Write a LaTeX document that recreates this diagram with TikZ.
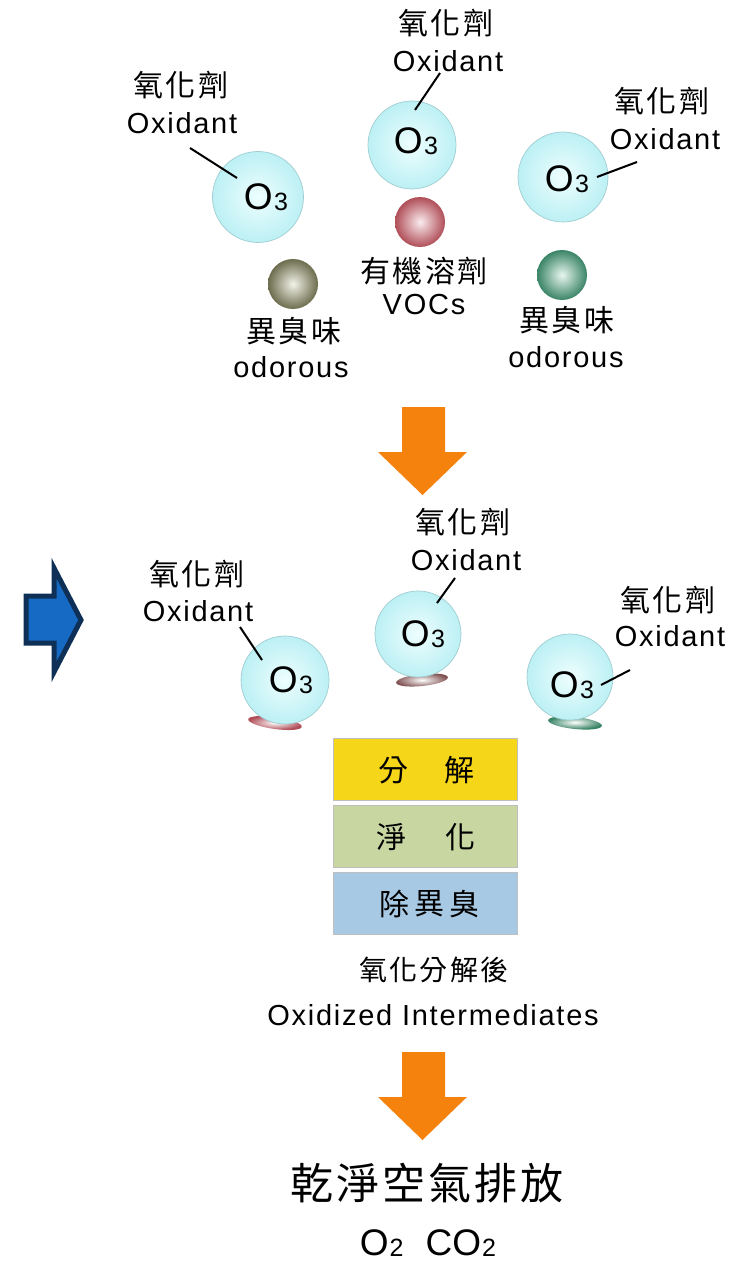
\documentclass[tikz,border=0pt]{standalone}
\usepackage{fontspec}
\setmainfont{Liberation Sans}
\newfontfamily\lat{Liberation Sans}[LetterSpace=6]
\newfontfamily\plain{Liberation Sans}
\newfontfamily\cjk{Noto Sans CJK TC}[LetterSpace=8]
\newfontfamily\cjkb{Noto Sans CJK TC}[LetterSpace=7]
\newfontfamily\cjkbox{Noto Sans CJK TC}
\definecolor{ozin}{RGB}{238,254,254}
\definecolor{ozout}{RGB}{188,240,244}
\definecolor{ozb}{RGB}{160,205,210}
\definecolor{redout}{RGB}{176,78,88}
\definecolor{redin}{RGB}{250,236,238}
\definecolor{oliveout}{RGB}{108,108,78}
\definecolor{olivein}{RGB}{242,242,232}
\definecolor{greenout}{RGB}{58,132,102}
\definecolor{greenin}{RGB}{232,246,240}
\definecolor{brownout}{RGB}{128,82,82}
\definecolor{orangeA}{RGB}{245,130,12}
\definecolor{blueA}{RGB}{22,106,196}
\definecolor{blueB}{RGB}{14,48,86}
\definecolor{boxY}{RGB}{246,214,24}
\definecolor{boxG}{RGB}{200,214,162}
\definecolor{boxB}{RGB}{168,201,228}
\newcommand\othree{{\plain\fontsize{37}{37}\selectfont O\kern1.5pt\raisebox{-1pt}{\fontsize{25}{25}\selectfont 3}}}
\newcommand\sub[1]{\kern1pt\raisebox{-1pt}{\fontsize{25}{25}\selectfont #1}}
\tikzset{
  lbl/.style={font=\lat\fontsize{29}{31}\selectfont, inner sep=0pt},
  clbl/.style={font=\cjk\fontsize{30}{32}\selectfont, inner sep=0pt},
  ozone/.style={circle, draw=ozb, line width=0.7pt, inner color=ozin, outer color=ozout, minimum size=#1, inner sep=0pt},
  ball/.style={circle, minimum size=50pt, inner sep=0pt, inner color=#1in, outer color=#1out},
  disc/.style={ellipse, minimum width=54pt, minimum height=12pt, inner sep=0pt, inner color=white, outer color=#1},
  leader/.style={line width=2pt, black},
  otext/.style={inner sep=0pt},
  stagebox/.style={draw=black!25, line width=0.6pt, minimum width=184pt, minimum height=62pt, inner sep=0pt},
  boxtext/.style={font=\cjkbox\fontsize{30}{32}\selectfont, inner sep=0pt},
  bigarrow/.style={fill=orangeA}
}
\begin{document}
\begin{tikzpicture}[x=1pt,y=-1pt]
\useasboundingbox (0,0) rectangle (747,1265);
\usetikzlibrary{shapes.geometric}
% ---------- top stage ----------
\node[ozone=91pt] (s1) at (258,197) {};
\node[otext] (o1) at (266,197) {\othree};
\node[ozone=88pt] (s2) at (412,145) {};
\node[otext] (o2) at (416,141) {\othree};
\node[ozone=90pt] (s3) at (563,177) {};
\node[otext] (o3) at (567,179) {\othree};

\node[clbl] (c1) at (181,85) {氧化劑};
\node[lbl] (e1) at (182,123) {Oxidant};
\node[clbl] (c2) at (446,23) {氧化劑};
\node[lbl] (e2) at (448,61) {Oxidant};
\node[clbl] (c3) at (662,101) {氧化劑};
\node[lbl] (e3) at (665,139) {Oxidant};

\coordinate (l1a) at (190,148); \coordinate (l1b) at (237,178);
\coordinate (l2a) at (440,73);  \coordinate (l2b) at (415,110);
\coordinate (l3a) at (637,162); \coordinate (l3b) at (597,177);
\draw[leader] (l1a) -- (l1b);
\draw[leader] (l2a) -- (l2b);
\draw[leader] (l3a) -- (l3b);

\node[ball=red] (bv) at (420,222) {};
\node[clbl] (cv) at (424,271) {有機溶劑};
\node[lbl] (ev) at (424,305) {VOCs};
\node[ball=olive] (bo1) at (293,284) {};
\node[clbl] (co1) at (294,331) {異臭味};
\node[lbl] (eo1) at (291,367) {odorous};
\node[ball=green] (bo2) at (562,275) {};
\node[clbl] (co2) at (567,320) {異臭味};
\node[lbl] (eo2) at (566,357) {odorous};

% ---------- orange arrow 1 ----------
\fill[bigarrow] (402,407) -- (445,407) -- (445,452) -- (467,452) -- (422.5,495) -- (378,452) -- (402,452) -- cycle;

% ---------- blue arrow ----------
\draw[fill=blueA, draw=blueB, line width=5pt, line join=miter] (26,596) -- (54,596) -- (54,568) -- (81,620) -- (54,672) -- (54,643) -- (26,643) -- cycle;

% ---------- second stage ----------
\node[disc=redout, rotate=-8] (d1) at (275,723) {};
\node[disc=brownout, rotate=6, minimum width=52pt] (d2) at (422,680) {};
\node[disc=greenout, rotate=-6] (d3) at (575,723) {};

\node[ozone=88pt] (t1) at (285,680) {};
\node[otext] (p1) at (291,680) {\othree};
\node[ozone=86pt] (t2) at (418,634) {};
\node[otext] (p2) at (423,634) {\othree};
\node[ozone=86pt] (t3) at (570,677) {};
\node[otext] (p3) at (572,685) {\othree};

\node[clbl] (f1) at (197,574) {氧化劑};
\node[lbl] (g1) at (198,611) {Oxidant};
\node[clbl] (f2) at (463,522) {氧化劑};
\node[lbl] (g2) at (466,560) {Oxidant};
\node[clbl] (f3) at (668,600) {氧化劑};
\node[lbl] (g3) at (670,636) {Oxidant};

\coordinate (m1a) at (240,627); \coordinate (m1b) at (262,660);
\coordinate (m2a) at (455,578); \coordinate (m2b) at (437,603);
\coordinate (m3a) at (630,670); \coordinate (m3b) at (601,685);
\draw[leader] (m1a) -- (m1b);
\draw[leader] (m2a) -- (m2b);
\draw[leader] (m3a) -- (m3b);

% ---------- boxes ----------
\node[stagebox, fill=boxY] (b1) at (425,769) {};
\node[stagebox, fill=boxG] (b2) at (425,836) {};
\node[stagebox, fill=boxB] (b3) at (425,903) {};
\node[boxtext] (b1a) at (393,770) {分};
\node[boxtext] (b1b) at (459,770) {解};
\node[boxtext] (b2a) at (391,837) {淨};
\node[boxtext] (b2b) at (460,837) {化};
\node[boxtext] (b3a) at (394,904) {除};
\node[boxtext] (b3b) at (429,904) {異};
\node[boxtext] (b3c) at (464,904) {臭};

\node[font=\cjk\fontsize{28}{30}\selectfont, inner sep=0pt] (ci) at (434,970) {氧化分解後};
\node[lbl] (ei) at (433,1015) {Oxidized Intermediates};

% ---------- orange arrow 2 ----------
\fill[bigarrow] (402,1052) -- (445,1052) -- (445,1097) -- (467,1097) -- (422.5,1140) -- (378,1097) -- (402,1097) -- cycle;

\node[font=\cjkb\fontsize{43}{46}\selectfont, inner sep=0pt] (clean) at (427,1183) {乾淨空氣排放};
\node[font=\plain\fontsize{37}{39}\selectfont, inner sep=0pt] (gas) at (428,1243) {O\sub{2}\hspace{22pt}CO\sub{2}};
\end{tikzpicture}
\end{document}
